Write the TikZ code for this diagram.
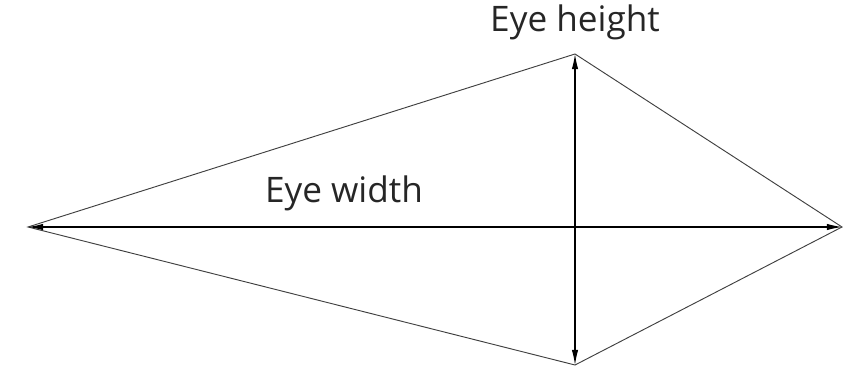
\documentclass[tikz,border=0pt]{standalone}
\usepackage{fontspec}
\setmainfont{Open Sans}
\usetikzlibrary{arrows.meta}

\begin{document}
\begin{tikzpicture}[
  x=0.03cm, y=-0.03cm,
  edge/.style={draw=black!75, line width=0.8pt},
  dim/.style={draw=black, line width=0.9pt, {Latex[length=13pt,width=5.5pt]}-{Latex[length=13pt,width=5.5pt]}},
  lbl/.style={font=\fontsize{30}{36}\selectfont, text=black!85, inner sep=0pt}
]
\useasboundingbox (0,0) rectangle (849,370);

% corners of the eye
\coordinate (inner) at (28,227);
\coordinate (outer) at (842,227);
\coordinate (top) at (575,54);
\coordinate (bottom) at (575,365);

% outline
\draw[edge] (inner) -- (top) -- (outer) -- (bottom) -- cycle;

% measures
\draw[dim] (inner) -- (outer);
\draw[dim] (bottom) -- (top);

\node[lbl] (height) at (575,22) {Eye height};
\node[lbl] (width) at (344,193) {Eye width};
\end{tikzpicture}
\end{document}
